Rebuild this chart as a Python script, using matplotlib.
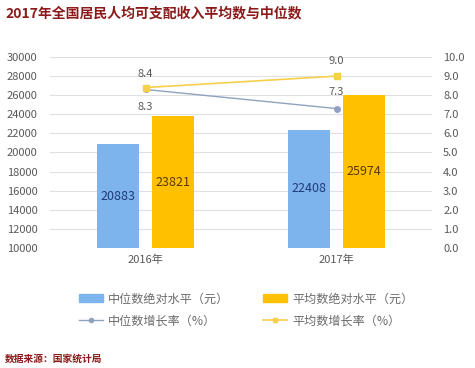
import matplotlib
matplotlib.use("Agg")
import matplotlib.pyplot as plt
from matplotlib.patches import Patch
from matplotlib.lines import Line2D
import numpy as np

plt.rcParams['font.family'] = ['Noto Sans CJK SC', 'DejaVu Sans']

categories = ["2016年", "2017年"]
median_abs = [20883, 22408]
mean_abs = [23821, 25974]
median_growth = [8.3, 7.3]
mean_growth = [8.4, 9.0]
left_ticks = list(range(10000, 30001, 2000))
right_ticks = [i * 1.0 for i in range(0, 11)]

title = "2017年全国居民人均可支配收入平均数与中位数"
source = "数据来源：国家统计局"
legend_labels = ["中位数绝对水平（元）", "平均数绝对水平（元）", "中位数增长率（%）", "平均数增长率（%）"]

blue = "#7EB4EE"
orange = "#FFC000"
line_blue = "#8EA3BE"
line_yellow = "#F5D04A"
tick_color = "#595959"

fig = plt.figure(figsize=(4.75, 3.68), dpi=100)
W, H = 475, 368
ax = fig.add_axes([50 / W, 1 - 248 / H, 382 / W, 191 / H])
ax2 = ax.twinx()

x = np.arange(len(categories))
bw = 0.22
off = 0.143
ax.bar(x - off, median_abs, bw, color=blue, zorder=2)
ax.bar(x + off, mean_abs, bw, color=orange, zorder=2)
ax.set_ylim(10000, 30000)
ax.set_xlim(-0.5, 1.5)
ax.set_yticks(left_ticks)
ax.grid(axis='y', color="#E0E0E0", linewidth=0.8, zorder=0)
ax.set_axisbelow(True)
for s in ax.spines.values():
    s.set_visible(False)
for s in ax2.spines.values():
    s.set_visible(False)
ax.tick_params(axis='y', length=0, labelsize=8, labelcolor=tick_color, pad=9)
ax.set_xticks(x)
ax.set_xticklabels(categories)
ax.tick_params(axis='x', length=0, labelsize=8, labelcolor=tick_color, pad=5)

for i in range(len(categories)):
    ax.text(x[i] - off, (10000 + median_abs[i]) / 2, str(median_abs[i]), ha='center', va='center',
            fontsize=9, color="#1F3A78", zorder=5)
    ax.text(x[i] + off, (10000 + mean_abs[i]) / 2, str(mean_abs[i]), ha='center', va='center',
            fontsize=9, color="#5A3A00", zorder=5)

ax2.plot(x, median_growth, color=line_blue, linewidth=1.0, marker='o', markersize=4, zorder=3)
ax2.plot(x, mean_growth, color=line_yellow, linewidth=1.2, marker='s', markersize=5, zorder=4)
ax2.set_ylim(0, 10)
ax2.set_yticks(right_ticks)
ax2.set_yticklabels([f"{v:.1f}" for v in right_ticks])
ax2.tick_params(axis='y', length=0, labelsize=8, labelcolor=tick_color, pad=8)

# growth labels
ax2.annotate(f"{mean_growth[0]:.1f}", (x[0], mean_growth[0]), xytext=(0, 6), textcoords='offset points',
             ha='center', va='bottom', fontsize=8, color=tick_color)
ax2.annotate(f"{median_growth[0]:.1f}", (x[0], median_growth[0]), xytext=(0, -9), textcoords='offset points',
             ha='center', va='top', fontsize=8, color=tick_color)
ax2.annotate(f"{mean_growth[1]:.1f}", (x[1], mean_growth[1]), xytext=(0, 7), textcoords='offset points',
             ha='center', va='bottom', fontsize=8, color=tick_color)
ax2.annotate(f"{median_growth[1]:.1f}", (x[1], median_growth[1]), xytext=(0, 8.5), textcoords='offset points',
             ha='center', va='bottom', fontsize=8, color=tick_color)

fig.text(5 / W, 1 - 13 / H, title, fontsize=10, fontweight='bold', color="#8B1A1A", va='center', ha='left')
fig.text(5 / W, 1 - 359 / H, source, fontsize=7, fontweight='bold', color="#8B1A1A", va='center', ha='left')

handles = [
    Patch(color=blue),
    Patch(color=orange),
    Line2D([0], [0], color=line_blue, marker='o', markersize=3, linewidth=1.0),
    Line2D([0], [0], color=line_yellow, marker='s', markersize=3, linewidth=1.2),
]
handles_order = [handles[0], handles[2], handles[1], handles[3]]
labels_order = [legend_labels[0], legend_labels[2], legend_labels[1], legend_labels[3]]
fig.legend(handles_order, labels_order, ncol=2, loc='center', bbox_to_anchor=(246 / W, 1 - 310 / H),
           frameon=False, fontsize=8.7, labelcolor="#6b6b6b", handlelength=2.0, handleheight=0.6,
           columnspacing=2.8, handletextpad=0.4, labelspacing=0.75)

fig.savefig("out.png", dpi=100, facecolor='white')
